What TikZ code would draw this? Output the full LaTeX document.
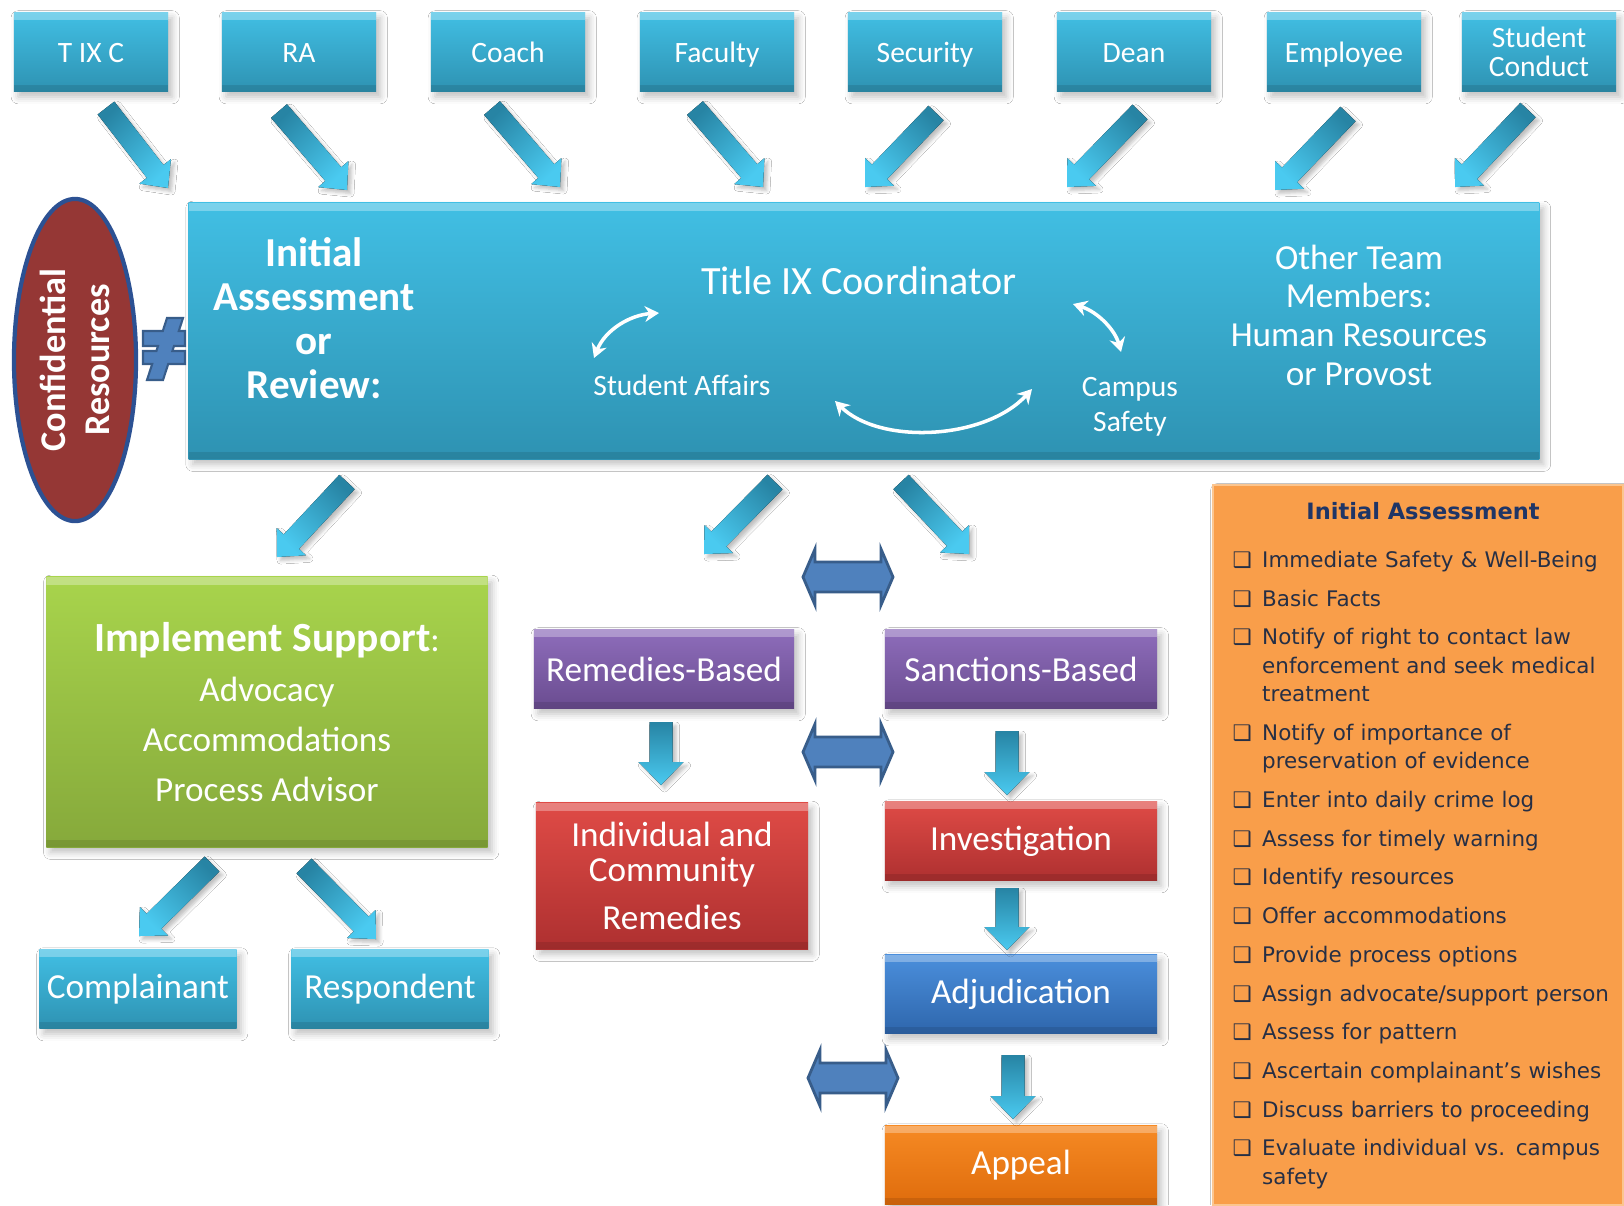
\documentclass[tikz,border=0pt]{standalone}
\usepackage{fontspec}
\setmainfont{Carlito}
\newfontfamily\listfont{DejaVu Sans}
\usepackage{tikz}
\usetikzlibrary{calc, shapes.geometric, shadows.blur, arrows.meta, positioning}

\definecolor{teamTop}{HTML}{41BFE4}
\definecolor{teamBot}{HTML}{2E92B2}
\definecolor{flowTail}{HTML}{2784A4}
\definecolor{flowHead}{HTML}{4ACAF0}
\definecolor{linkBlue}{HTML}{4F81BD}
\definecolor{linkEdge}{HTML}{385D8A}
\definecolor{confRed}{HTML}{953735}
\definecolor{confEdge}{HTML}{2C5193}
\definecolor{supportTop}{HTML}{A8D44C}
\definecolor{supportBot}{HTML}{86A93B}
\definecolor{pathTop}{HTML}{8E6DBB}
\definecolor{pathBot}{HTML}{6A4C90}
\definecolor{caseTop}{HTML}{DF4B46}
\definecolor{caseBot}{HTML}{AE3030}
\definecolor{hearTop}{HTML}{4B8FDC}
\definecolor{hearBot}{HTML}{2E66AC}
\definecolor{appealTop}{HTML}{F68A24}
\definecolor{appealBot}{HTML}{DF6C0C}
\definecolor{checkFill}{HTML}{F99E4A}
\definecolor{checkEdge}{HTML}{FBC58F}
\definecolor{checkText}{HTML}{262F45}
\definecolor{checkHead}{HTML}{1F3566}

% sizes of the fat arrows
\newlength\shaftw \setlength\shaftw{0.105cm}
\newlength\headw  \setlength\headw{0.2cm}
\newlength\headl  \setlength\headl{0.21cm}

% fat arrow from tail #2 to tip #3
\newcommand{\blockarrow}[3][]{%
  \coordinate (hb) at ($(#3)!\headl!(#2)$);
  \fill[#1] ($(#2)!\shaftw!90:(#3)$) -- ($(hb)!\shaftw!-90:(#2)$)
    -- ($(hb)!\headw!-90:(#2)$) -- (#3) -- ($(hb)!\headw!90:(#2)$)
    -- ($(hb)!\shaftw!90:(#2)$) -- ($(#2)!\shaftw!-90:(#3)$) -- cycle;
}

% one entry of the checklist
\newcommand{\chk}{\par\hangindent=0.295cm\hangafter=1\noindent\makebox[0.295cm][l]{❑}}

\begin{document}
\begin{tikzpicture}[x=0.01cm, y=-0.01cm,
  tile/.style={rectangle, text=white, align=center, inner sep=1pt,
    blur shadow={shadow xshift=1.2pt, shadow yshift=-1.5pt, shadow blur radius=2pt, shadow opacity=25},
    path picture={
      \fill[white, opacity=0.3] (path picture bounding box.north west) rectangle ([yshift=-2.2pt]path picture bounding box.north east);
      \fill[black, opacity=0.1] (path picture bounding box.south west) rectangle ([yshift=2pt]path picture bounding box.south east);
    }},
  team/.style={tile, top color=teamTop, bottom color=teamBot},
  track/.style={tile, top color=pathTop, bottom color=pathBot, minimum width=2.6cm, minimum height=0.79cm},
  stage/.style={tile, minimum width=2.72cm, minimum height=0.79cm},
  flow/.style={top color=flowTail, bottom color=flowHead, shading angle=#1,
    blur shadow={shadow xshift=1pt, shadow yshift=-1pt, shadow blur radius=1pt, shadow opacity=25}},
  swap/.style={fill=linkBlue, draw=linkEdge, line width=0.8pt},
  loop/.style={white, line width=1pt, {Stealth[length=4pt,width=4.5pt]}-{Stealth[length=4pt,width=4.5pt]}},
  label/.style={text=white, align=center, inner sep=0pt}
]
\fill[white] (0,0) rectangle (1624,1205);
\useasboundingbox (0,0) rectangle (1624,1205);

% who reports
\foreach \name/\x/\txt in {tixc/91/T IX C, ra/299/RA, coach/508/Coach, faculty/717/Faculty,
    security/925/Security, dean/1134/Dean, employee/1344/Employee}
  \node[team, minimum width=1.54cm, minimum height=0.79cm, text height=0.84em, text depth=0.22em,
    font=\fontsize{8.4}{8.3}\selectfont] (\name) at (\x,52) {\txt};
\node[team, minimum width=1.54cm, minimum height=0.79cm, font=\fontsize{8.4}{8.3}\selectfont] (conduct) at (1539,52) {Student\\Conduct};

\foreach \tx/\ty/\hx/\hy/\a [count=\i] in {106/108/168/188/45, 279/111/347/190/45, 492/108/560/187/45,
    695/108/763/187/45, 936/113/865/187/-45, 1140/112/1067/187/-45, 1348/114/1275/190/-45, 1528/110/1455/187/-45} {
  \coordinate (in\i) at (\tx,\ty);
  \coordinate (to\i) at (\hx,\hy);
  \blockarrow[flow=\a]{in\i}{to\i}
}

% the review panel
\node[team, minimum width=13.5cm, minimum height=2.56cm] (review) at (864,331) {};
\node[label, font=\bfseries\fontsize{11.7}{12.5}\selectfont] (assess) at (314,318) {Initial\\Assessment\\or\\Review:};
\node[label, font=\fontsize{11.4}{13}\selectfont] (coord) at (859,281) {Title IX Coordinator};
\node[label, font=\fontsize{8.4}{10}\selectfont] (affairs) at (682,385) {Student Affairs};
\node[label, font=\fontsize{8.4}{10}\selectfont] (safety) at (1130,407) {Campus\\Safety};
\node[label, font=\fontsize{10}{11}\selectfont] (others) at (1359,315) {Other Team\\Members:\\Human Resources\\or Provost};

\coordinate (sa1) at (594,358);
\coordinate (sa2) at (659,313);
\coordinate (cs1) at (1073,304);
\coordinate (cs2) at (1121,352);
\coordinate (lo1) at (835,401);
\coordinate (lo2) at (1032,389);
\draw[loop] (sa1) .. controls (605,330) and (630,315) .. (sa2);
\draw[loop] (cs1) .. controls (1098,312) and (1115,330) .. (cs2);
\draw[loop] (lo1) .. controls (880,445) and (985,440) .. (lo2);

% kept apart from the review
\node[ellipse, rotate=90, fill=confRed, draw=confEdge, line width=1.2pt, minimum width=3.22cm,
  minimum height=1.22cm, inner sep=0pt, text=white, align=center,
  font=\bfseries\fontsize{10.3}{12.5}\selectfont] (conf) at (75,360) {Confidential\\Resources};
\fill[swap, line width=0.6pt] (167,318) -- (183,318) -- (178.8,331) -- (185,331) -- (185,346) -- (174,346)
  -- (172.4,351) -- (185,351) -- (185,364) -- (168.2,364) -- (163,380) -- (147,380) -- (152.2,364)
  -- (143,364) -- (143,351) -- (156.4,351) -- (158,346) -- (143,346) -- (143,331) -- (162.8,331) -- cycle;

% out of the review
\foreach \tx/\ty/\hx/\hy/\a [count=\i] in {347/482/277/557/-45, 775/482/704/554/-45, 901/482/969/554/45,
    212/864/139/936/-45, 304/866/376/939/45} {
  \coordinate (out\i) at (\tx,\ty);
  \coordinate (end\i) at (\hx,\hy);
  \blockarrow[flow=\a]{out\i}{end\i}
}

% support side
\node[tile, top color=supportTop, bottom color=supportBot, minimum width=4.41cm, minimum height=2.70cm,
  font=\fontsize{10}{14.2}\selectfont] (support) at (267,712)
  {{\bfseries\fontsize{11.8}{14.2}\selectfont Implement Support}:\\Advocacy\\Accommodations\\Process Advisor};
\node[team, minimum width=1.97cm, minimum height=0.79cm, font=\fontsize{10}{12}\selectfont] (complainant) at (138,989) {Complainant};
\node[team, minimum width=1.97cm, minimum height=0.79cm, font=\fontsize{10}{12}\selectfont] (respondent) at (390,989) {Respondent};

% the two tracks
\node[track, font=\fontsize{10}{12}\selectfont] (remedies) at (664,669) {Remedies-Based};
\node[track, minimum width=2.72cm, font=\fontsize{10}{12}\selectfont] (sanctions) at (1021,669) {Sanctions-Based};
\node[stage, top color=caseTop, bottom color=caseBot, minimum height=1.46cm, font=\fontsize{10}{10}\selectfont] (community) at (672,876)
  {Individual and\\Community\\[3.5pt]Remedies};
\node[stage, top color=caseTop, bottom color=caseBot, font=\fontsize{10}{12}\selectfont] (investigation) at (1021,841) {Investigation};
\node[stage, top color=hearTop, bottom color=hearBot, font=\fontsize{10}{12}\selectfont] (adjudication) at (1021,994) {Adjudication};
\node[stage, top color=appealTop, bottom color=appealBot, font=\fontsize{10}{12}\selectfont] (appeal) at (1021,1165) {Appeal};

\setlength\shaftw{0.115cm}
\setlength\headw{0.225cm}
\setlength\headl{0.23cm}
\foreach \x/\ya/\yb [count=\i] in {661/722/785, 1007/731/795, 1007/888/950, 1013/1055/1119} {
  \coordinate (down\i) at (\x,\ya);
  \coordinate (tip\i) at (\x,\yb);
  \blockarrow[flow=0]{down\i}{tip\i}
}

% switching between tracks
\foreach \x/\y [count=\i] in {848/577, 848/752, 853/1078} {
  \coordinate (switch\i) at (\x,\y);
  \draw[swap] (switch\i) ++(-45,0) -- ++(12,-28) -- ++(0,13) -- ++(66,0) -- ++(0,-13) -- ++(12,28)
    -- ++(-12,28) -- ++(0,-13) -- ++(-66,0) -- ++(0,13) -- cycle;
}

% checklist
\node[fill=checkFill, draw=checkEdge, line width=0.6pt, minimum width=4.09cm, minimum height=7.19cm,
  blur shadow={shadow xshift=1.2pt, shadow yshift=-1.5pt, shadow blur radius=2pt, shadow opacity=25}] (check) at (1418,845) {};
\node[text=checkHead, font=\listfont\bfseries\fontsize{6.4}{7}\selectfont] (checkhead) at (1423,511) {Initial Assessment};
\node[anchor=north west, inner sep=0pt, text width=3.86cm, align=left, text=checkText,
  font=\listfont\fontsize{6.1}{8.1}\selectfont] (checkitems) at (1232,528) {\setlength{\parskip}{2.9pt}%
\chk Immediate Safety \& Well-Being
\chk Basic Facts
\chk Notify of right to contact law\newline enforcement and seek medical\newline treatment
\chk Notify of importance of\newline preservation of evidence
\chk Enter into daily crime log
\chk Assess for timely warning
\chk Identify resources
\chk Offer accommodations
\chk Provide process options
\chk Assign advocate/support person
\chk Assess for pattern
\chk Ascertain complainant’s wishes
\chk Discuss barriers to proceeding
\chk Evaluate individual vs. campus\newline safety\par};
\end{tikzpicture}
\end{document}
